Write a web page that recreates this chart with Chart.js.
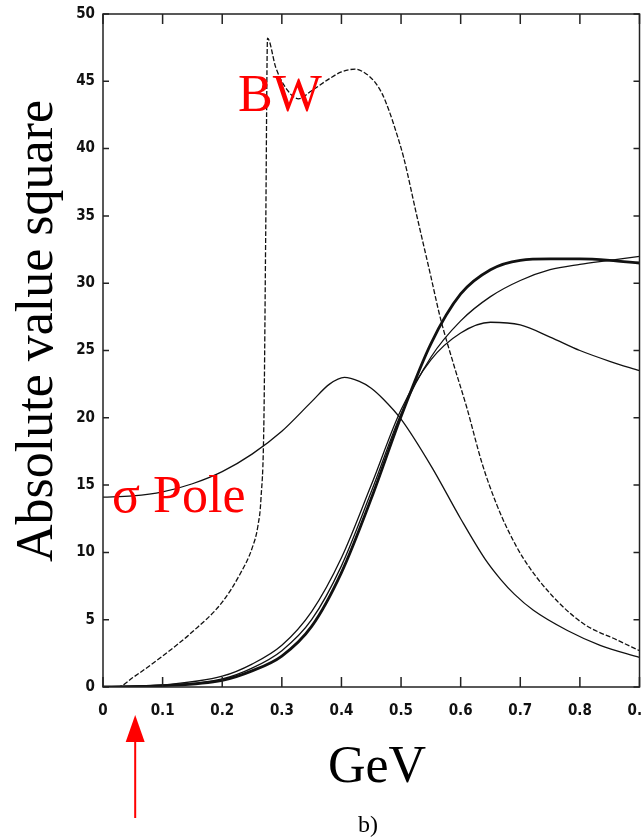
<!DOCTYPE html>
<html><head><meta charset="utf-8">
<script src="https://cdn.jsdelivr.net/npm/chart.js@4/dist/chart.umd.min.js"></script>
<style>html,body{margin:0;padding:0;background:#fff;}canvas{display:block}</style>
</head><body>
<canvas id="c" width="641" height="839"></canvas>
<script>
// ---- data ----
const xTicks = [0,0.1,0.2,0.3,0.4,0.5,0.6,0.7,0.8,0.9];
const yTicks = [0,5,10,15,20,25,30,35,40,45,50];

const bwX = [0,0.025,0.05,0.1,0.15,0.2,0.23,0.25,0.26,0.265,0.27,0.273,0.276,0.29,0.31,0.328,0.35,0.38,0.4,0.423,0.44,0.455,0.468,0.48,0.492,0.504,0.527,0.55,0.566,0.588,0.61,0.636,0.66,0.68,0.706,0.751,0.806,0.862,0.9];
const bwY = [0,0,0.7,2.3,4.1,6.3,8.4,10.3,12,14,20,34,48.2,46,44.3,43.7,44.3,45.2,45.7,45.9,45.6,45.0,44.1,42.8,41.2,39.4,34.9,30.5,27.4,24.0,20.8,16.6,13.6,11.6,9.5,6.9,4.7,3.5,2.7];

const poleX = [0,0.05,0.1,0.15,0.2,0.25,0.3,0.35,0.38,0.405,0.43,0.45,0.47,0.5,0.552,0.6,0.641,0.667,0.69,0.722,0.779,0.834,0.9];
const poleY = [14.1,14.2,14.5,15.1,16.0,17.3,19.0,21.2,22.5,23.0,22.7,22.2,21.4,19.9,16.3,12.5,9.5,8.0,6.9,5.7,4.2,3.1,2.2];

const sX     = [0,0.1,0.2,0.25,0.3,0.35,0.4,0.45,0.5,0.55,0.6,0.65,0.7,0.75,0.8,0.85,0.9];
const thickY = [0,0.1,0.5,1.2,2.3,4.5,8.5,14,20.1,25.5,29.2,31,31.7,31.8,31.8,31.7,31.5];
const thinY  = [0,0.1,0.6,1.4,2.7,5.0,9.0,14.5,20.3,24.5,27.2,29,30.2,31,31.4,31.7,32];
const humpY  = [0,0.15,0.8,1.7,3.1,5.6,9.6,15,20.6,24.3,26.3,27.1,26.9,26.0,25.0,24.2,23.5];

const arrowAtX = 0.054;

const pts = (xs, ys) => xs.map((x, i) => ({x, y: ys[i]}));

const frame = {
  id: 'frame',
  afterDatasetsDraw(chart) {
    const {ctx, chartArea: a, scales: {x, y}} = chart;
    ctx.save();
    ctx.strokeStyle = '#222';
    ctx.lineWidth = 1.5;
    ctx.strokeRect(a.left, a.top, a.right - a.left, a.bottom - a.top);
    ctx.beginPath();
    xTicks.forEach(v => {
      const px = x.getPixelForValue(v);
      ctx.moveTo(px, a.bottom); ctx.lineTo(px, a.bottom - 10);
      ctx.moveTo(px, a.top); ctx.lineTo(px, a.top + 10);
    });
    yTicks.forEach(v => {
      const py = y.getPixelForValue(v);
      ctx.moveTo(a.left, py); ctx.lineTo(a.left + 6, py);
      ctx.moveTo(a.right, py); ctx.lineTo(a.right - 6, py);
    });
    ctx.stroke();
    ctx.restore();
  },
  afterDraw(chart) {
    const {ctx, scales: {x}} = chart;
    ctx.save();
    ctx.fillStyle = '#000';
    ctx.font = '52px "Liberation Serif", "Times New Roman", serif';
    ctx.textBaseline = 'alphabetic';
    ctx.textAlign = 'center';
    ctx.fillText('GeV', 377, 782);
    ctx.save();
    ctx.translate(52, 331);
    ctx.rotate(-Math.PI / 2);
    ctx.fillText('Absolute value square', 0, 0);
    ctx.restore();
    ctx.font = '24px "Liberation Serif", serif';
    ctx.fillText('b)', 368, 832);
    ctx.fillStyle = '#ff0000';
    ctx.textAlign = 'left';
    ctx.font = '52px "Liberation Serif", "Times New Roman", serif';
    ctx.fillText('BW', 238, 111);
    ctx.fillText('σ Pole', 112, 512);
    // red arrow
    const ax = x.getPixelForValue(arrowAtX);
    ctx.strokeStyle = '#ff0000';
    ctx.lineWidth = 2;
    ctx.beginPath(); ctx.moveTo(ax, 740); ctx.lineTo(ax, 818); ctx.stroke();
    ctx.beginPath(); ctx.moveTo(ax, 715); ctx.lineTo(ax - 9.5, 742); ctx.lineTo(ax + 9.5, 742); ctx.closePath(); ctx.fill();
    ctx.restore();
  }
};

const tickFont = {family: '"Liberation Sans Narrow", "DejaVu Sans Condensed", sans-serif', size: 15, weight: 'bold'};

new Chart(document.getElementById('c'), {
  type: 'line',
  data: {
    datasets: [
      {label: 'BW', data: pts(bwX, bwY), borderColor: '#111', borderWidth: 1.3, borderDash: [5, 2], cubicInterpolationMode: 'monotone'},
      {label: 'σ Pole', data: pts(poleX, poleY), borderColor: '#111', borderWidth: 1.3, cubicInterpolationMode: 'monotone'},
      {label: 'A', data: pts(sX, thickY), borderColor: '#111', borderWidth: 2.8, cubicInterpolationMode: 'monotone'},
      {label: 'B', data: pts(sX, thinY), borderColor: '#111', borderWidth: 1.3, cubicInterpolationMode: 'monotone'},
      {label: 'C', data: pts(sX, humpY), borderColor: '#111', borderWidth: 1.3, cubicInterpolationMode: 'monotone'}
    ]
  },
  options: {
    responsive: false,
    animation: false,
    devicePixelRatio: 1,
    layout: {padding: {top: 14, right: 1.5, left: 0, bottom: 0}},
    elements: {point: {radius: 0}},
    plugins: {legend: {display: false}, tooltip: {enabled: false}},
    scales: {
      x: {
        type: 'linear', min: 0, max: 0.9,
        grid: {display: false, drawTicks: false},
        border: {display: false},
        ticks: {stepSize: 0.1, padding: 15, color: '#111', font: tickFont, maxRotation: 0, autoSkip: false,
          callback: v => v === 0 ? '0' : Number(v).toFixed(1)},
        afterFit: s => { s.height = 152; s.paddingLeft = 0; s.paddingRight = 0; }
      },
      y: {
        min: 0, max: 50,
        grid: {display: false, drawTicks: false},
        border: {display: false},
        ticks: {stepSize: 5, padding: 8, color: '#111', font: tickFont},
        afterFit: s => { s.width = 103; s.paddingTop = 0; s.paddingBottom = 0; }
      }
    }
  },
  plugins: [frame]
});
</script>
</body></html>
